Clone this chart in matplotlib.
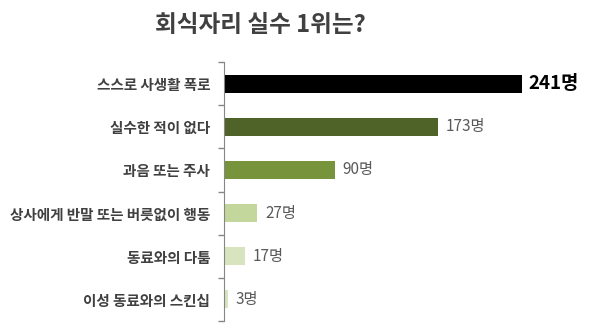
import numpy as np
import matplotlib
matplotlib.use('Agg')
import matplotlib.pyplot as plt

plt.rcParams['font.family'] = ['Noto Sans CJK KR', 'DejaVu Sans']

categories = ['스스로 사생활 폭로', '실수한 적이 없다', '과음 또는 주사',
              '상사에게 반말 또는 버릇없이 행동', '동료와의 다툼', '이성 동료와의 스킨십']
counts = [241, 173, 90, 27, 17, 3]
value_labels = ['241명', '173명', '90명', '27명', '17명', '3명']
colors = ['#000000', '#4F6228', '#77933C', '#C3D69B', '#D7E4BD', '#D7E4BD']

fig = plt.figure(figsize=(6.09, 3.36), dpi=100)
ax = fig.add_axes([224 / 609, 15 / 336, 1 - 224 / 609 - 0.02, (321 - 62) / 336])

y = np.arange(len(categories))
ax.barh(y, counts, height=0.42, color=colors)
ax.set_ylim(len(categories) - 0.5, -0.5)
ax.set_xlim(0, (609 - 12 - 224) / 1.236)

for i, (v, lab) in enumerate(zip(counts, value_labels)):
    if i == 0:
        ax.annotate(lab, (v, i), xytext=(5, 0), textcoords='offset points',
                    va='center', ha='left', fontsize=13.5, fontweight='bold', color='#000000')
    else:
        ax.annotate(lab, (v, i), xytext=(5.5, 0), textcoords='offset points',
                    va='center', ha='left', fontsize=11, color='#595959')

for s in ['top', 'right', 'bottom']:
    ax.spines[s].set_visible(False)
ax.spines['left'].set_color('#868686')
ax.set_xticks([])
ax.set_yticks(y)
ax.set_yticklabels(categories, fontsize=10.5, fontweight='bold', color='#404040')
ax.tick_params(axis='y', which='major', length=0, pad=10)
ax.set_yticks(np.arange(-0.5, len(categories)), minor=True)
ax.tick_params(axis='y', which='minor', length=4, color='#868686', width=1)

fig.suptitle('회식자리 실수 1위는?', x=0.427, y=0.96, fontsize=17, fontweight='bold', color='#404040')

fig.savefig('out.png', dpi=100)
